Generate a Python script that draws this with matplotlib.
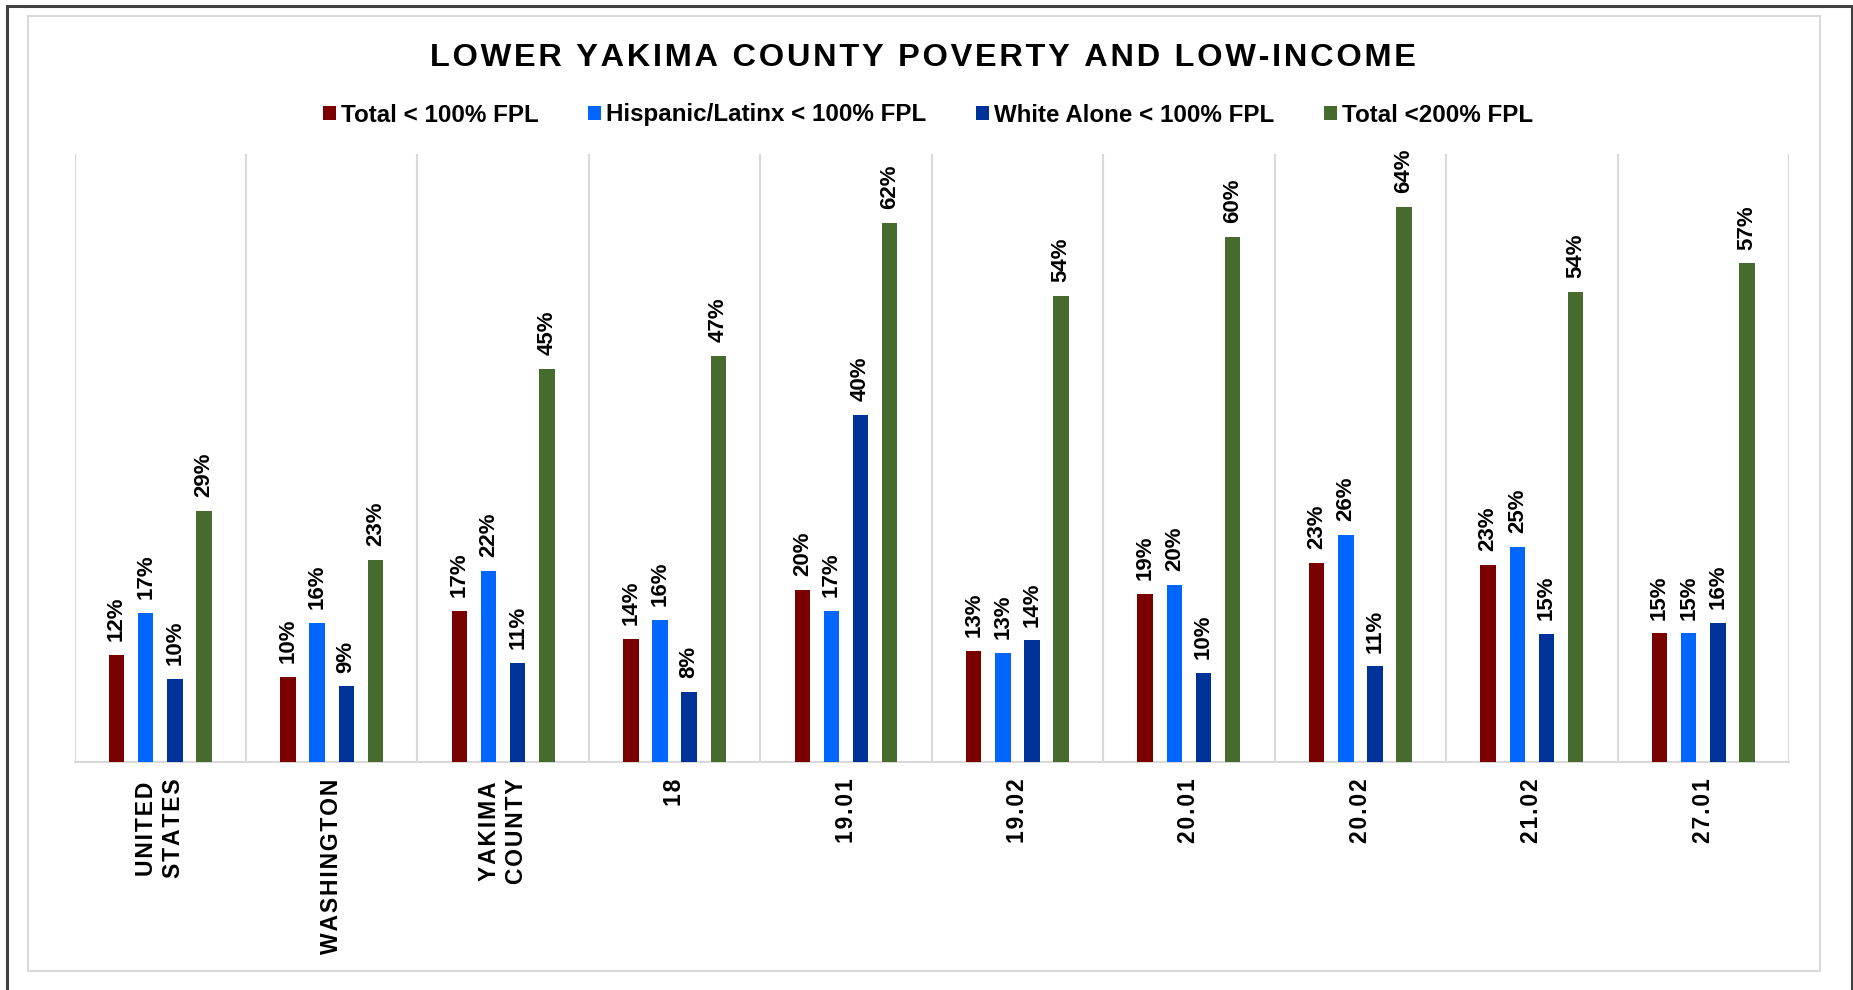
import matplotlib
matplotlib.use("Agg")
import matplotlib.pyplot as plt
from matplotlib.patches import Rectangle
import numpy as np

plt.rcParams['font.family'] = ['Liberation Sans', 'DejaVu Sans']
plt.rcParams['font.weight'] = 'bold'

# data (percent)
categories = ["UNITED\nSTATES", "WASHINGTON", "YAKIMA\nCOUNTY", "18", "19.01",
              "19.02", "20.01", "20.02", "21.02", "27.01"]
series_names = ["Total < 100% FPL", "Hispanic/Latinx < 100% FPL",
                "White Alone < 100% FPL", "Total <200% FPL"]
total_100 = [12.3, 9.8, 17.4, 14.2, 19.8, 12.8, 19.3, 22.9, 22.7, 14.8]
hispanic_100 = [17.2, 16.0, 22.0, 16.4, 17.4, 12.6, 20.4, 26.1, 24.8, 14.8]
white_100 = [9.6, 8.7, 11.4, 8.1, 40.0, 14.0, 10.3, 11.0, 14.7, 16.0]
total_200 = [28.9, 23.3, 45.3, 46.8, 62.1, 53.7, 60.4, 63.9, 54.1, 57.4]
colors = ["#7a0000", "#0066ff", "#003399", "#476a2e"]


def spaced(s, sep="\u200a"):
    # fake letter spacing
    return "\n".join(sep.join(line) for line in s.split("\n"))


fig = plt.figure(figsize=(18.53, 9.9), dpi=100)
W, H = 1853, 990

# outer and inner frames
fig.patches.append(Rectangle((7 / W, -0.02), (1852 - 7) / W, 1.02 - 6 / H,
                             transform=fig.transFigure, fill=False,
                             edgecolor="#404040", linewidth=2.2))
fig.patches.append(Rectangle((28 / W, 1 - 971 / H), (1820 - 28) / W, (971 - 16) / H,
                             transform=fig.transFigure, fill=False,
                             edgecolor="#d9d9d9", linewidth=1.5))

ax = fig.add_axes([74.5 / W, 1 - 762 / H, (1789 - 74.5) / W, (762 - 154) / H])

x = np.arange(len(categories))
step = 0.17
bw = 0.09
all_series = [total_100, hispanic_100, white_100, total_200]
bars = []
for i, (vals, name, c) in enumerate(zip(all_series, series_names, colors)):
    off = (i - 1.5) * step
    b = ax.bar(x + off, vals, width=bw, color=c, label=name, zorder=3)
    bars.append(b)
    for xi, v in zip(x + off, vals):
        ax.annotate(f"{round(v)}%", (xi, v), xytext=(0, 10), textcoords="offset points",
                    rotation=90, ha="center", va="bottom", fontsize=16,
                    fontweight="bold", color="black")

ax.set_xlim(-0.5, len(categories) - 0.5)
ax.set_ylim(0, 70)
ax.set_yticks([])
ax.set_xticks(x)
ax.set_xticklabels([spaced(c) for c in categories], rotation=90,
                   fontsize=16.5, fontweight="bold", va="top", ha="center")
ax.tick_params(axis="x", length=0, pad=12)
ax.set_xticks(np.arange(-0.5, len(categories)), minor=True)
ax.tick_params(axis="x", which="minor", length=0)
ax.grid(axis="x", which="minor", color="#d9d9d9", linewidth=1.5, zorder=0)
for s in ["top", "right", "left"]:
    ax.spines[s].set_visible(False)
ax.spines["bottom"].set_color("#d9d9d9")
ax.spines["bottom"].set_linewidth(1.5)

fig.text(0.498, 1 - 58 / H, spaced("LOWER YAKIMA COUNTY POVERTY AND LOW-INCOME"),
         ha="center", va="center", fontsize=23.4, fontweight="bold")

fig.legend(handles=bars, labels=series_names, loc="center",
           bbox_to_anchor=(0.5008, 1 - 115 / H), ncol=4, frameon=False,
           fontsize=17.4, handlelength=0.55, handleheight=0.55,
           handletextpad=0.2, columnspacing=2.05)

fig.savefig("out.png", dpi=100)
